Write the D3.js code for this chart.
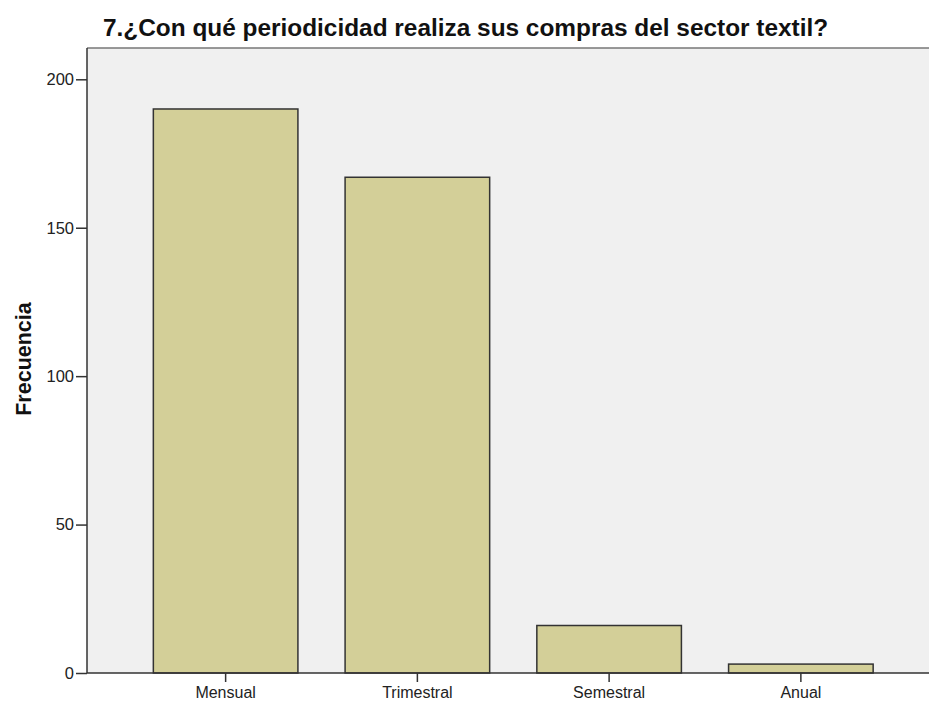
<!DOCTYPE html>
<html>
<head>
<meta charset="utf-8">
<script src="https://cdn.jsdelivr.net/npm/d3@7"></script>
<style>
  body { margin: 0; background: #fff; }
  svg { display: block; font-family: Arial, "Liberation Sans", sans-serif; }
</style>
</head>
<body>
<div id="container"></div>
<script>
// data
const categories = ["Mensual", "Trimestral", "Semestral", "Anual"];
const frecuencias = [190, 167, 16, 3];
const yTicks = [0, 50, 100, 150, 200];
const title = "7.¿Con qué periodicidad realiza sus compras del sector textil?";

const width = 929, height = 702;
const plot = { left: 87, top: 48, bottom: 673 };

const svg = d3.select("#container")
  .append("svg")
  .attr("width", width)
  .attr("height", height);

// scales
const x = d3.scaleBand()
  .domain(categories)
  .range([plot.left, 939.5])
  .paddingInner(0.246)
  .paddingOuter(0.346);

const y = d3.scaleLinear()
  .domain([0, 200])
  .range([plot.bottom, 79.3]);

// plot background
svg.append("rect")
  .attr("x", plot.left)
  .attr("y", plot.top)
  .attr("width", width - plot.left + 5)
  .attr("height", plot.bottom - plot.top)
  .attr("fill", "#f0f0f0");

// top border
svg.append("line")
  .attr("x1", plot.left).attr("x2", width)
  .attr("y1", plot.top).attr("y2", plot.top)
  .attr("stroke", "#777").attr("stroke-width", 1.5);

// bars
svg.selectAll(".bar")
  .data(frecuencias)
  .join("rect")
  .attr("class", "bar")
  .attr("x", (d, i) => x(categories[i]))
  .attr("y", d => y(d))
  .attr("width", x.bandwidth())
  .attr("height", d => y(0) - y(d))
  .attr("fill", "#d3cf98")
  .attr("stroke", "#333")
  .attr("stroke-width", 1.5);

// y axis
const yAxis = svg.append("g")
  .attr("transform", `translate(${plot.left},0)`)
  .call(d3.axisLeft(y).tickValues(yTicks).tickSize(11).tickPadding(2).tickFormat(d3.format("d")));
yAxis.select(".domain").attr("d", `M0,${plot.top}V${plot.bottom}`).attr("stroke", "#333").attr("stroke-width", 1.5);
yAxis.selectAll(".tick line").attr("stroke", "#333").attr("stroke-width", 1.5);
yAxis.selectAll(".tick text").attr("font-size", 16.5).attr("fill", "#222").attr("font-family", "Arial, 'Liberation Sans', sans-serif");

// x axis
const xAxis = svg.append("g")
  .attr("transform", `translate(0,${plot.bottom})`)
  .call(d3.axisBottom(x).tickSize(9).tickPadding(5));
xAxis.select(".domain").attr("d", `M${plot.left},0H${width}`).attr("stroke", "#333").attr("stroke-width", 1.5);
xAxis.selectAll(".tick line").attr("stroke", "#333").attr("stroke-width", 1.5);
xAxis.selectAll(".tick text").attr("font-size", 16).attr("fill", "#222").attr("font-family", "Arial, 'Liberation Sans', sans-serif");

// title
svg.append("text")
  .attr("x", 103)
  .attr("y", 36)
  .attr("font-size", 24.4)
  .attr("font-weight", "bold")
  .attr("fill", "#111")
  .text(title);

// y label
svg.append("text")
  .attr("transform", "translate(31,359) rotate(-90)")
  .attr("text-anchor", "middle")
  .attr("font-size", 21.5)
  .attr("font-weight", "bold")
  .attr("fill", "#111")
  .text("Frecuencia");
</script>
</body>
</html>
